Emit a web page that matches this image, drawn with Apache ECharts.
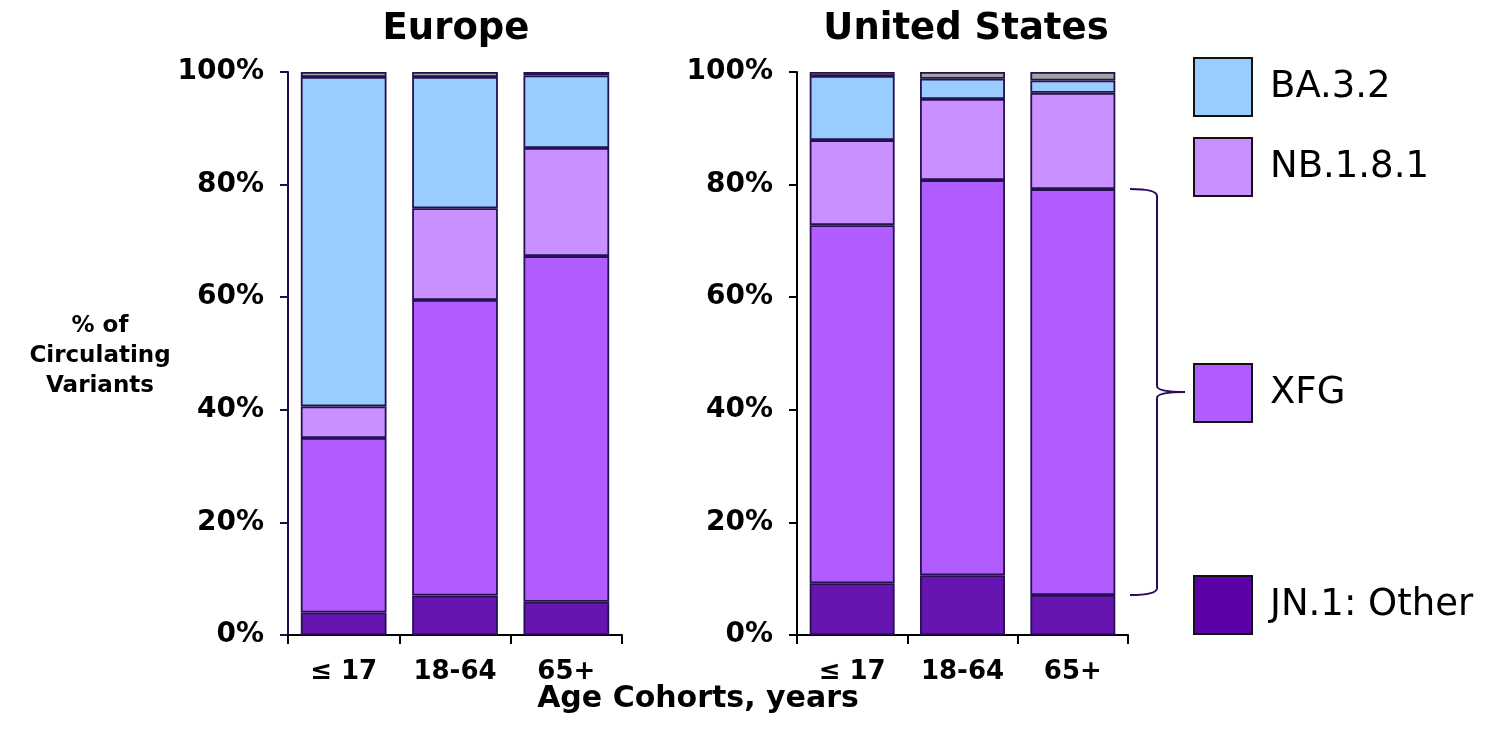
<!DOCTYPE html>
<html>
<head>
<meta charset="utf-8">
<title>Circulating Variants by Age Cohort</title>
<script src="https://cdn.jsdelivr.net/npm/echarts@6/dist/echarts.min.js"></script>
<style>
  html, body { margin: 0; padding: 0; background: #ffffff; }
  #chart { width: 1490px; height: 743px; }
</style>
</head>
<body>
<div id="chart"></div>
<script>
// Age cohorts on each x axis
const cohorts = ['≤ 17', '18-64', '65+'];
const yTicks = [0, 20, 40, 60, 80, 100];

// Share of circulating variants (%), Europe
const europeJN1 = [4.0, 7.0, 5.9];
const europeXFG = [31.0, 52.5, 61.4];
const europeNB181 = [5.6, 16.3, 19.2];
const europeBA32 = [58.5, 23.3, 12.9];
const europeOther = [0.9, 0.9, 0.6];

// Share of circulating variants (%), United States
const usJN1 = [9.2, 10.6, 7.1];
const usXFG = [63.6, 70.2, 72.1];
const usNB181 = [15.1, 14.4, 17.1];
const usBA32 = [11.4, 3.6, 2.2];
const usOther = [0.7, 1.2, 1.5];

const variantNames = ['JN.1: Other', 'XFG', 'NB.1.8.1', 'BA.3.2', 'Other lineages'];
const variantColors = ['#6615b1', '#b05cff', '#c990ff', '#99ccff', '#a3a3a3'];

const FONT = 'DejaVu Sans';
const BORDER = '#26114f';

const chart = echarts.init(document.getElementById('chart'), null, { renderer: 'canvas' });

function makeSeries(region, idx, values) {
  return values.map((vals, i) => ({
    name: variantNames[i],
    type: 'bar',
    stack: region,
    xAxisIndex: idx,
    yAxisIndex: idx,
    barWidth: '77%',
    data: vals,
    itemStyle: { color: variantColors[i], borderColor: BORDER, borderWidth: 1.8 },
    emphasis: { disabled: true },
    animation: false
  }));
}

function yAxis(gridIndex, lineColor) {
  return {
    type: 'value', gridIndex: gridIndex, min: yTicks[0], max: yTicks[yTicks.length - 1],
    interval: yTicks[1] - yTicks[0],
    axisLine: { show: true, lineStyle: { color: lineColor, width: 2 } },
    axisTick: { show: true, length: 8, lineStyle: { color: lineColor, width: 2 } },
    splitLine: { show: false },
    axisLabel: {
      formatter: '{value}%', margin: 24, color: '#000',
      fontFamily: FONT, fontWeight: 'bold', fontSize: 28
    }
  };
}

function xAxis(gridIndex) {
  return {
    type: 'category', gridIndex: gridIndex, data: cohorts,
    axisLine: { show: true, lineStyle: { color: '#000', width: 2 } },
    axisTick: { show: true, length: 9, lineStyle: { color: '#000', width: 2 } },
    axisLabel: {
      margin: 24, color: '#000', fontFamily: FONT, fontWeight: 'bold', fontSize: 26
    }
  };
}

function legendBlock(top, items) {
  return {
    left: 1193, top: top, orient: 'vertical', padding: 0,
    itemWidth: 58, itemHeight: 58, itemGap: 20,
    icon: 'rect', selectedMode: false,
    textStyle: { fontFamily: FONT, fontSize: 37, color: '#000', padding: [4, 0, 0, 13] },
    itemStyle: { borderColor: '#111', borderWidth: 2 },
    data: items
  };
}

const option = {
  backgroundColor: '#ffffff',
  animation: false,
  title: [
    { text: 'Europe', left: 451, top: 6, textAlign: 'center',
      textStyle: { fontFamily: FONT, fontWeight: 'bold', fontSize: 37, color: '#000' } },
    { text: 'United States', left: 961, top: 6, textAlign: 'center',
      textStyle: { fontFamily: FONT, fontWeight: 'bold', fontSize: 37, color: '#000' } }
  ],
  legend: [
    legendBlock(57, [{ name: 'BA.3.2' }, { name: 'NB.1.8.1' }]),
    legendBlock(363, [{ name: 'XFG' }]),
    legendBlock(575, [{ name: 'JN.1: Other', itemStyle: { color: '#5c00aa' } }])
  ],
  grid: [
    { left: 288, top: 72, width: 334, height: 563 },
    { left: 797, top: 72, width: 331, height: 563 }
  ],
  xAxis: [xAxis(0), xAxis(1)],
  yAxis: [yAxis(0, '#1d0a4a'), yAxis(1, '#000')],
  series: [
    ...makeSeries('europe', 0, [europeJN1, europeXFG, europeNB181, europeBA32, europeOther]),
    ...makeSeries('us', 1, [usJN1, usXFG, usNB181, usBA32, usOther])
  ]
};

chart.setOption(option);

// Brace grouping the XFG share of the US 65+ bar, pointing at the XFG legend entry
const last = cohorts.length - 1;
const braceLow = usJN1[last];
const braceHigh = usJN1[last] + usXFG[last];
const yBot = chart.convertToPixel({ xAxisIndex: 1, yAxisIndex: 1 }, [last, braceLow])[1];
const yTop = chart.convertToPixel({ xAxisIndex: 1, yAxisIndex: 1 }, [last, braceHigh])[1];
const yMid = (yTop + yBot) / 2;
const bx0 = 1130, bx1 = 1157, bTip = 1185;
const braceStyle = { fill: null, stroke: '#2b0b5e', lineWidth: 2 };

function curve(x1, y1, cx, cy, x2, y2) {
  return { type: 'bezierCurve', shape: { x1: x1, y1: y1, cpx1: cx, cpy1: cy, x2: x2, y2: y2 }, style: braceStyle };
}
function seg(x1, y1, x2, y2) {
  return { type: 'line', shape: { x1: x1, y1: y1, x2: x2, y2: y2 }, style: braceStyle };
}

chart.setOption({
  graphic: [
    curve(bx0, yTop, bx1, yTop, bx1, yTop + 7),
    seg(bx1, yTop + 7, bx1, yMid - 6),
    curve(bx1, yMid - 6, bx1, yMid, bTip, yMid),
    curve(bTip, yMid, bx1, yMid, bx1, yMid + 6),
    seg(bx1, yMid + 6, bx1, yBot - 7),
    curve(bx1, yBot - 7, bx1, yBot, bx0, yBot),
    {
      type: 'text',
      style: {
        text: '% of\nCirculating\nVariants', x: 100, y: 356,
        align: 'center', verticalAlign: 'middle', lineHeight: 30,
        fontFamily: FONT, fontWeight: 'bold', fontSize: 23, fill: '#000'
      }
    },
    {
      type: 'text',
      style: {
        text: 'Age Cohorts, years', x: 698, y: 699,
        align: 'center', verticalAlign: 'middle',
        fontFamily: FONT, fontWeight: 'bold', fontSize: 30, fill: '#000'
      }
    }
  ]
});
</script>
</body>
</html>
